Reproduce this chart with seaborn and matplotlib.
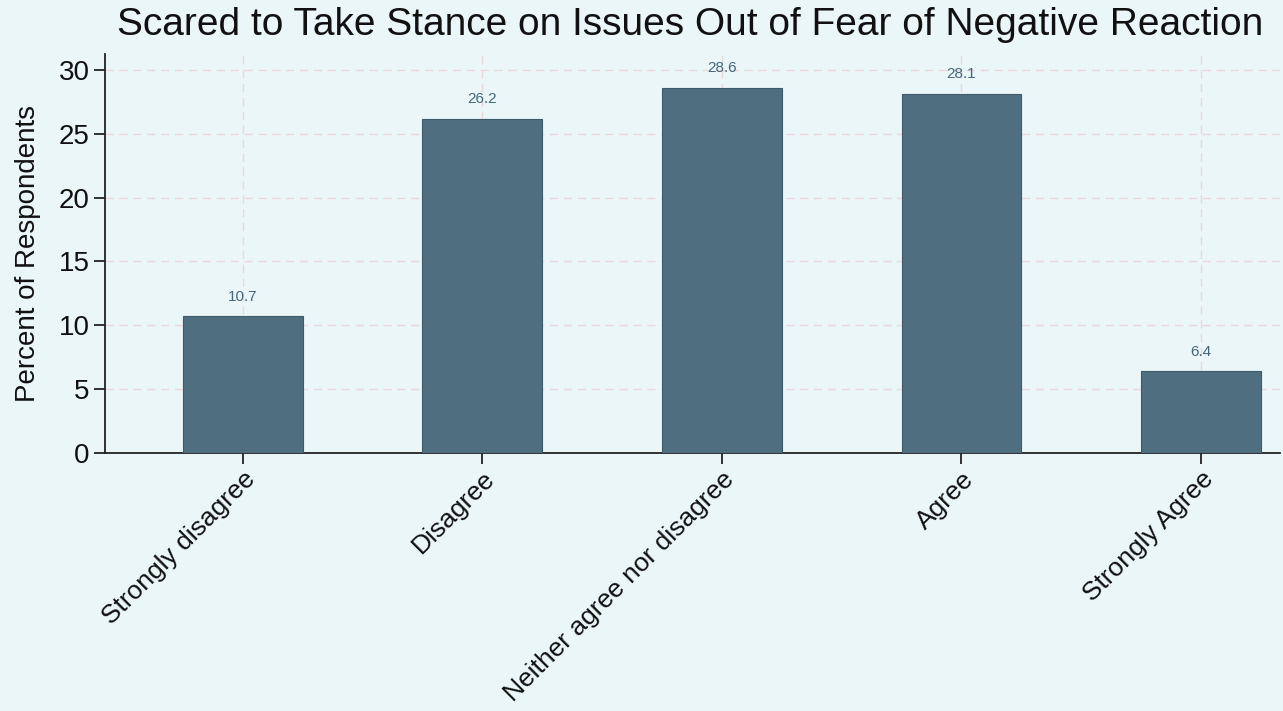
import matplotlib
matplotlib.use("Agg")
import matplotlib.pyplot as plt
import seaborn as sns
import pandas as pd

categories = ["Strongly disagree", "Disagree", "Neither agree nor disagree",
              "Agree", "Strongly Agree"]
percents = [10.7, 26.2, 28.6, 28.1, 6.4]
yticks = [0, 5, 10, 15, 20, 25, 30]

bg = "#EAF6F8"
bar_color = "#4F6F80"
ink = "#111111"

sns.set_theme(style="white")
plt.rcParams["font.family"] = ["Liberation Sans", "DejaVu Sans"]

df = pd.DataFrame({"response": categories, "percent": percents})

fig = plt.figure(figsize=(12.83, 7.11), dpi=100, facecolor=bg)
ax = fig.add_axes([0.0818, 0.3629, 0.9159, 0.5611])
ax.set_facecolor(bg)

sns.barplot(data=df, x="response", y="percent", order=categories,
            color=bar_color, saturation=1, width=0.5, ax=ax, zorder=3,
            edgecolor="#3E5A69", linewidth=0.8)

for p, v in zip(ax.patches, percents):
    ax.text(p.get_x() + p.get_width() / 2, v + 1.0, f"{v:.1f}",
            ha="center", va="bottom", fontsize=11, color="#46677A", zorder=4)

ax.set_xlim(-0.575, 4.33)
ax.set_ylim(0, 31.25)
ax.set_yticks(yticks)
ax.grid(True, axis="both", linestyle=(0, (6, 4)), color="#EAD9DC",
        linewidth=1.0, zorder=0)

for side in ["top", "right"]:
    ax.spines[side].set_visible(False)
for side in ["left", "bottom"]:
    ax.spines[side].set_color("#222222")
    ax.spines[side].set_linewidth(1.3)

ax.tick_params(axis="both", direction="out", length=8, width=1.3,
               color="#222222", labelcolor=ink, bottom=True, left=True)
ax.tick_params(axis="y", labelsize=20, pad=3)
ax.tick_params(axis="x", labelsize=19, pad=2)
plt.setp(ax.get_xticklabels(), rotation=45, ha="right",
         rotation_mode="anchor")

ax.set_xlabel("")
ax.set_ylabel("Percent of Respondents", fontsize=20, labelpad=13, color=ink)
fig.suptitle("Scared to Take Stance on Issues Out of Fear of Negative Reaction",
             x=0.538, y=0.99, fontsize=28, va="top", color=ink)

fig.savefig("out.png", dpi=100, facecolor=bg)
